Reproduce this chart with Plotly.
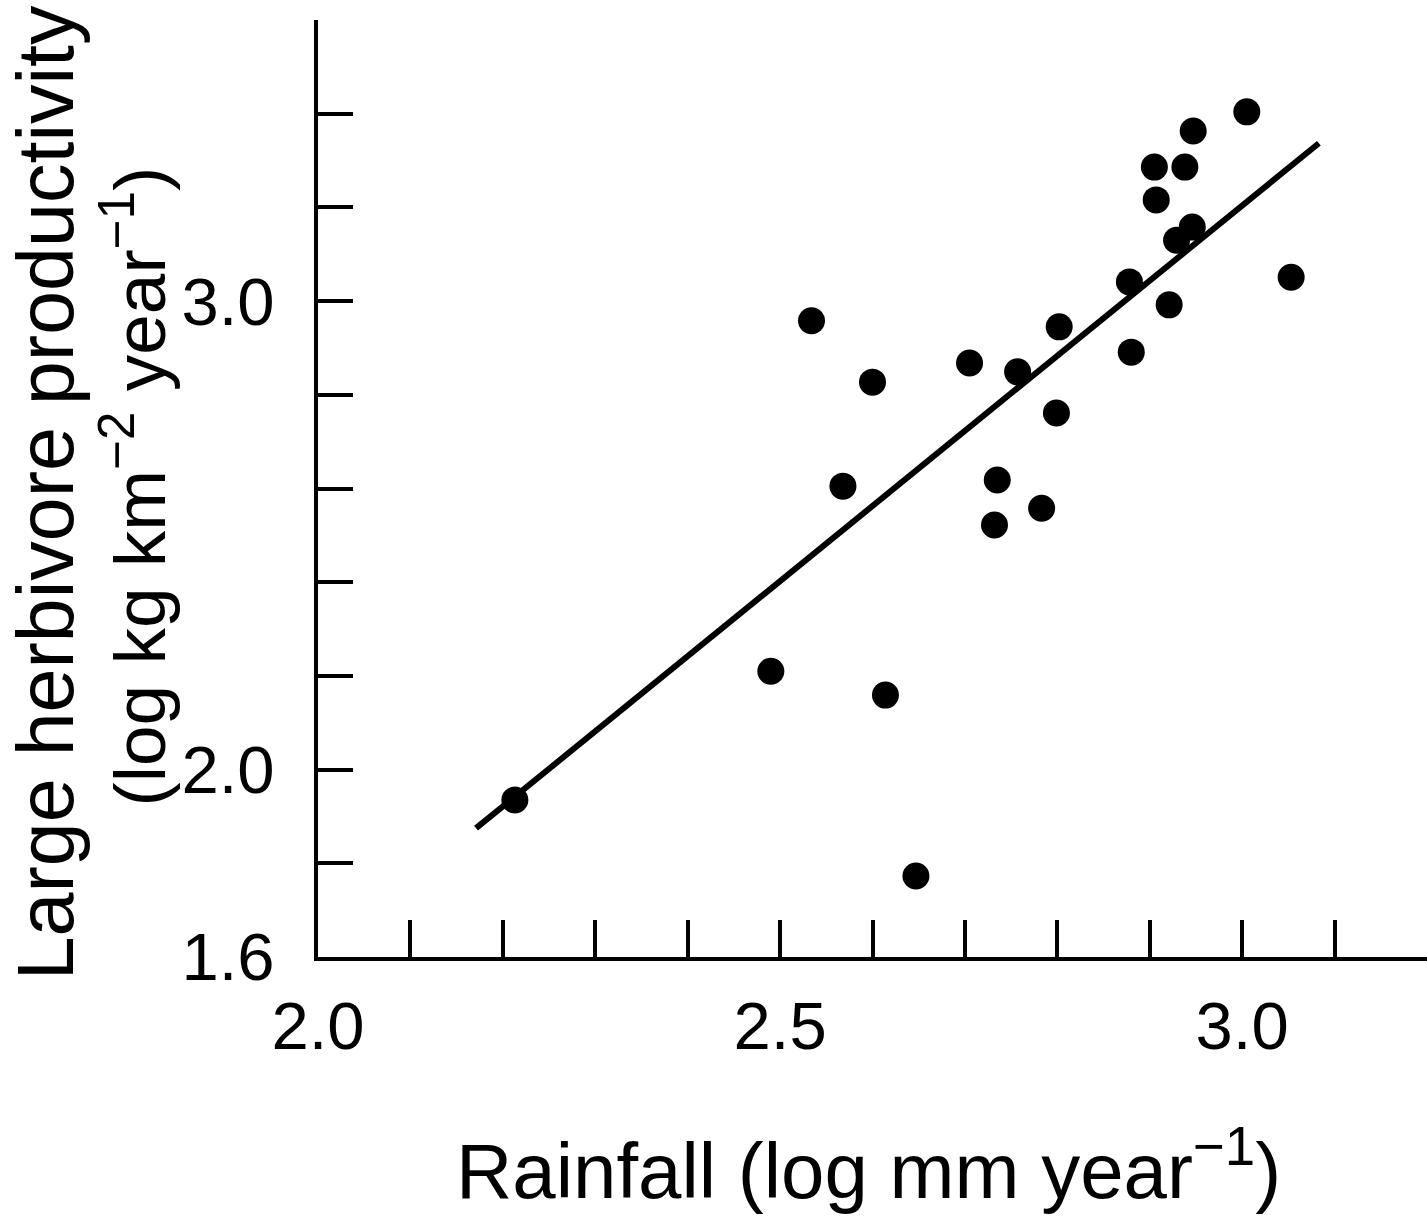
import plotly.graph_objects as go

# Data
rainfall = [2.213, 2.490, 2.534, 2.568, 2.600, 2.614, 2.647, 2.705, 2.735, 2.732,
            2.757, 2.783, 2.799, 2.802, 2.880, 2.878, 2.905, 2.907, 2.921, 2.929,
            2.938, 2.947, 2.946, 3.005, 3.053]
productivity = [1.935, 2.210, 2.958, 2.605, 2.827, 2.159, 1.773, 2.868, 2.618, 2.522,
                2.849, 2.558, 2.761, 2.945, 2.891, 3.041, 3.286, 3.216, 2.992, 3.130,
                3.286, 3.363, 3.158, 3.404, 3.051]

fit_x = [2.171, 3.083]
fit_y = [1.875, 3.337]

x_tickvals = [2.0, 2.1, 2.2, 2.3, 2.4, 2.5, 2.6, 2.7, 2.8, 2.9, 3.0, 3.1, 3.2]
x_ticktext = ["2.0", "", "", "", "", "2.5", "", "", "", "", "3.0", "", ""]
y_tickvals = [1.6, 1.8, 2.0, 2.2, 2.4, 2.6, 2.8, 3.0, 3.2, 3.4, 3.6]
y_ticktext = ["1.6", "", "2.0", "", "", "", "", "3.0", "", "", ""]

FONT = "Liberation Sans, Arial, Helvetica, sans-serif"

fig = go.Figure()
fig.add_trace(go.Scatter(x=fit_x, y=fit_y, mode="lines",
                         line=dict(color="black", width=6), showlegend=False))
fig.add_trace(go.Scatter(x=rainfall, y=productivity, mode="markers",
                         marker=dict(color="black", size=27), showlegend=False))

fig.update_layout(
    width=1427, height=1217,
    margin=dict(l=318, r=0, t=20, b=260),
    paper_bgcolor="white", plot_bgcolor="white",
    font=dict(family=FONT, color="black"),
    xaxis=dict(range=[2.0, 3.2], showgrid=False, zeroline=False,
               showline=True, linecolor="black", linewidth=4,
               ticks="inside", ticklen=37, tickwidth=4, tickcolor="black",
               tickvals=x_tickvals, ticktext=x_ticktext,
               tickfont=dict(size=67, family=FONT), ticklabelstandoff=8),
    yaxis=dict(range=[1.6, 3.6], showgrid=False, zeroline=False,
               showline=True, linecolor="black", linewidth=4,
               ticks="inside", ticklen=35, tickwidth=4, tickcolor="black",
               tickvals=y_tickvals, ticktext=y_ticktext,
               tickfont=dict(size=67, family=FONT), ticklabelstandoff=26),
    annotations=[
        dict(text="Rainfall (log mm year<sup>−1</sup>)", xref="paper", yref="paper",
             x=0.496, y=-0.222, xanchor="center", yanchor="middle", showarrow=False,
             font=dict(size=78, family=FONT)),
        dict(text="Large herbivore productivity", xref="paper", yref="paper",
             x=-0.246, y=0.495, xanchor="center", yanchor="middle", showarrow=False,
             textangle=-90, font=dict(size=79, family=FONT)),
        dict(text="(log kg km<sup>−2</sup> year<sup>−1</sup>)", xref="paper", yref="paper",
             x=-0.166, y=0.502, xanchor="center", yanchor="middle", showarrow=False,
             textangle=-90, font=dict(size=73, family=FONT)),
    ],
)

fig.write_html("out.html")
